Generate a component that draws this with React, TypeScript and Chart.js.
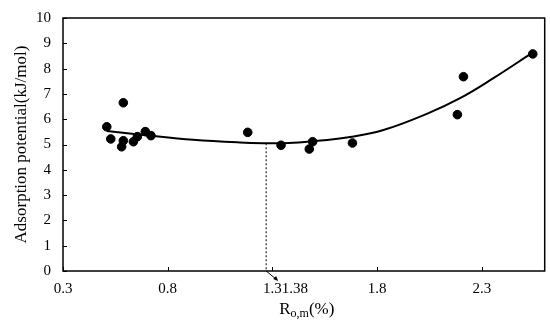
import React, { useEffect, useRef } from "react";
import { Chart, registerables } from "chart.js";

Chart.register(...registerables);

const pointX = [0.509, 0.528, 0.588, 0.580, 0.588, 0.636, 0.655, 0.693, 0.720, 1.182, 1.341, 1.476, 1.492, 1.682, 2.183, 2.212, 2.543];
const pointY = [5.70, 5.22, 6.65, 4.91, 5.15, 5.11, 5.31, 5.51, 5.35, 5.48, 4.97, 4.82, 5.11, 5.06, 6.18, 7.68, 8.58];

const curveX = [0.51, 0.683, 0.922, 1.145, 1.273, 1.352, 1.495, 1.671, 1.83, 2.037, 2.196, 2.355, 2.54];
const curveY = [5.53, 5.38, 5.19, 5.08, 5.05, 5.05, 5.13, 5.30, 5.57, 6.21, 6.83, 7.62, 8.62];

const xTicks = [0.3, 0.8, 1.3, 1.8, 2.3];
const yTicks = [0, 1, 2, 3, 4, 5, 6, 7, 8, 9, 10];
const minX = 1.27;
const minY = 5.05;
const minLabel = "1.38";

const FONT = "'Liberation Serif', 'Times New Roman', serif";

const overlay = {
  id: "overlay",
  afterDraw(chart: any) {
    const { ctx, chartArea: a, scales } = chart;
    const xs = scales.x;
    const ys = scales.y;
    ctx.save();
    ctx.strokeStyle = "#000";
    ctx.fillStyle = "#000";
    ctx.lineWidth = 1.5;
    ctx.strokeRect(a.left, a.top, a.right - a.left, a.bottom - a.top);
    // inward ticks
    ctx.lineWidth = 1;
    xTicks.forEach((v) => {
      const px = Math.round(xs.getPixelForValue(v)) + 0.5;
      ctx.beginPath();
      ctx.moveTo(px, a.bottom);
      ctx.lineTo(px, a.bottom - 4);
      ctx.stroke();
    });
    yTicks.forEach((v) => {
      const py = Math.round(ys.getPixelForValue(v)) + 0.5;
      ctx.beginPath();
      ctx.moveTo(a.left, py);
      ctx.lineTo(a.left + 4, py);
      ctx.stroke();
    });
    // dashed line at minimum
    const dx = xs.getPixelForValue(minX);
    ctx.setLineDash([2, 2]);
    ctx.beginPath();
    ctx.moveTo(dx, ys.getPixelForValue(minY));
    ctx.lineTo(dx, a.bottom);
    ctx.stroke();
    ctx.setLineDash([]);
    // arrow
    const ex = dx + 11;
    const ey = a.bottom + 9;
    ctx.beginPath();
    ctx.moveTo(dx, a.bottom);
    ctx.lineTo(ex, ey);
    ctx.stroke();
    ctx.beginPath();
    ctx.moveTo(ex + 1, ey + 1);
    ctx.lineTo(ex - 4, ey - 1);
    ctx.lineTo(ex - 1, ey - 4);
    ctx.closePath();
    ctx.fill();
    // 1.38 label
    ctx.font = `15px ${FONT}`;
    ctx.textBaseline = "middle";
    ctx.textAlign = "left";
    const tw = ctx.measureText("1.3").width;
    const lx = xs.getPixelForValue(1.3) + tw / 2;
    ctx.fillText(minLabel, lx, 289);
    // x title with subscript
    const cx = (a.left + a.right) / 2 + 3;
    ctx.textBaseline = "alphabetic";
    ctx.font = `17px ${FONT}`;
    const wR = ctx.measureText("R").width;
    const wP = ctx.measureText("(%)").width;
    ctx.font = `12px ${FONT}`;
    const wS = ctx.measureText("o,m").width;
    let x0 = cx - (wR + wS + wP) / 2;
    const base = 314;
    ctx.font = `17px ${FONT}`;
    ctx.fillText("R", x0, base);
    x0 += wR;
    ctx.font = `12px ${FONT}`;
    ctx.fillText("o,m", x0, base + 3);
    x0 += wS;
    ctx.font = `17px ${FONT}`;
    ctx.fillText("(%)", x0, base);
    ctx.restore();
  },
};

export default function App() {
  const ref = useRef<HTMLCanvasElement | null>(null);
  useEffect(() => {
    document.body.style.margin = "0";
    const chart = new Chart(ref.current as HTMLCanvasElement, {
      type: "scatter",
      data: {
        datasets: [
          {
            type: "line",
            data: curveX.map((x, i) => ({ x, y: curveY[i] })),
            borderColor: "#000",
            borderWidth: 2,
            pointRadius: 0,
            tension: 0.4,
            fill: false,
          } as any,
          {
            data: pointX.map((x, i) => ({ x, y: pointY[i] })),
            backgroundColor: "#000",
            borderColor: "#000",
            pointRadius: 4.3,
          },
        ],
      },
      plugins: [overlay],
      options: {
        animation: false,
        responsive: false,
        maintainAspectRatio: false,
        layout: { padding: { top: 18, right: 4, left: 0, bottom: 0 } },
        plugins: { legend: { display: false }, tooltip: { enabled: false } },
        scales: {
          x: {
            type: "linear",
            min: 0.3,
            max: 2.6,
            afterBuildTicks: (s: any) => {
              s.ticks = xTicks.map((v) => ({ value: v }));
            },
            afterFit: (s: any) => {
              s.height = 53;
              s.paddingLeft = 0;
              s.paddingRight = 0;
            },
            grid: { display: false, drawTicks: false },
            border: { display: false },
            ticks: {
              color: "#000",
              font: { family: FONT, size: 15 },
              padding: 9,
              maxRotation: 0,
              callback: (v: any) => String(v),
            },
          },
          y: {
            min: 0,
            max: 10,
            afterBuildTicks: (s: any) => {
              s.ticks = yTicks.map((v) => ({ value: v }));
            },
            afterFit: (s: any) => {
              s.width = 63;
              s.paddingTop = 0;
              s.paddingBottom = 0;
            },
            grid: { display: false, drawTicks: false },
            border: { display: false },
            title: {
              display: true,
              text: "Adsorption potential(kJ/mol)",
              color: "#000",
              font: { family: FONT, size: 17 },
              padding: 11,
            },
            ticks: {
              color: "#000",
              font: { family: FONT, size: 15 },
              padding: 12,
            },
          },
        },
      },
    });
    return () => chart.destroy();
  }, []);
  return <canvas ref={ref} width={550} height={324} style={{ display: "block" }} />;
}
